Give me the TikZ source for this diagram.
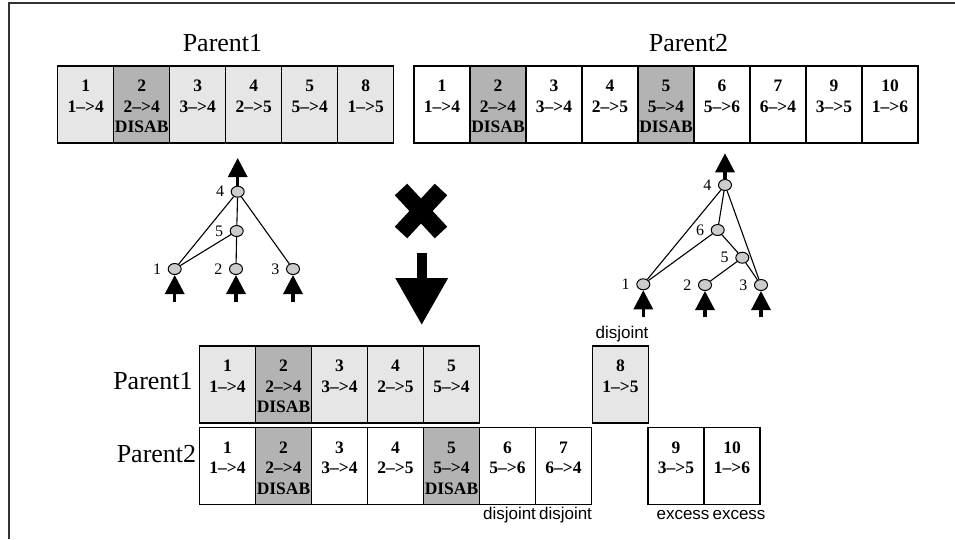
\documentclass[tikz,border=0pt]{standalone}
\usepackage{fontspec}
\setmainfont{Liberation Serif}
\newfontfamily\tagfont{Liberation Sans}
\usetikzlibrary{calc,positioning,shapes.geometric,arrows.meta}
\definecolor{genelight}{RGB}{230,230,230}
\definecolor{genedark}{RGB}{179,179,179}
\definecolor{dotgray}{RGB}{204,204,204}
\tikzset{
  gene/.style={draw=black, line width=1.3pt, rectangle, minimum width=56pt,
    minimum height=77pt, inner sep=0pt, outer sep=0pt,
    font=\fontsize{17.5}{20.5}\selectfont\bfseries},
  p1gene/.style={gene, fill=genelight},
  p2gene/.style={gene, fill=white},
  disgene/.style={gene, fill=genedark},
  title/.style={font=\fontsize{26}{30}\selectfont},
  tag/.style={font=\tagfont\fontsize{17}{20}\selectfont, inner sep=0pt,
    text height=12pt, text depth=3.5pt},
  netdot/.style={ellipse, draw=black, fill=dotgray, line width=1pt,
    minimum width=13pt, minimum height=11pt, inner sep=0pt},
  link/.style={line width=1.1pt},
  inarrow/.style={line width=3.2pt, -{Triangle[width=19pt,length=19pt]}},
}
\def\netnode{\node[netdot]}
\def\drawin{\draw[inarrow]}
\newcommand{\genetext}[3]{\parbox[c][54.3pt][t]{56pt}{\centering\strut#1\\#2\\#3\strut}}

\begin{document}
\begin{tikzpicture}[x=1pt, y=-1pt,
  every label/.style={font=\fontsize{16}{18}\selectfont, inner sep=1pt},
  label distance=5.5pt]
\useasboundingbox (0,0) rectangle (955,539);
\draw[line width=1.3pt, black!80] (9,539) -- (9,3) -- (955,3);

% Parent1 genome
\node[title] (p1_title) at (222.5,43.5) {Parent1};
\node[p1gene] (p1_g1) at (85.7,104.5) {\genetext{1}{1–>4}{}};
\node[disgene, right=0pt of p1_g1] (p1_g2) {\genetext{2}{2–>4}{DISAB}};
\node[p1gene, right=0pt of p1_g2] (p1_g3) {\genetext{3}{3–>4}{}};
\node[p1gene, right=0pt of p1_g3] (p1_g4) {\genetext{4}{2–>5}{}};
\node[p1gene, right=0pt of p1_g4] (p1_g5) {\genetext{5}{5–>4}{}};
\node[p1gene, right=0pt of p1_g5] (p1_g8) {\genetext{8}{1–>5}{}};

% Parent2 genome
\node[title] (p2_title) at (688.5,43.5) {Parent2};
\node[p2gene] (p2_g1) at (442,104.5) {\genetext{1}{1–>4}{}};
\node[disgene, right=0pt of p2_g1] (p2_g2) {\genetext{2}{2–>4}{DISAB}};
\node[p2gene, right=0pt of p2_g2] (p2_g3) {\genetext{3}{3–>4}{}};
\node[p2gene, right=0pt of p2_g3] (p2_g4) {\genetext{4}{2–>5}{}};
\node[disgene, right=0pt of p2_g4] (p2_g5) {\genetext{5}{5–>4}{DISAB}};
\node[p2gene, right=0pt of p2_g5] (p2_g6) {\genetext{6}{5–>6}{}};
\node[p2gene, right=0pt of p2_g6] (p2_g7) {\genetext{7}{6–>4}{}};
\node[p2gene, right=0pt of p2_g7] (p2_g9) {\genetext{9}{3–>5}{}};
\node[p2gene, right=0pt of p2_g9] (p2_g10) {\genetext{10}{1–>6}{}};

% Parent1 network
\netnode[label=left:4] (l4) at (237.7,191.7) {};
\netnode[label=left:5] (l5) at (236.7,231) {};
\netnode[label=left:1] (l1) at (174.7,269) {};
\netnode[label=left:2] (l2) at (236,269) {};
\netnode[label=left:3] (l3) at (293,269) {};
\draw[link] (l4) -- (l1);
\draw[link] (l4) -- (l5);
\draw[link] (l4) -- (l3);
\draw[link] (l5) -- (l1);
\draw[link] (l5) -- (l2);
\coordinate (l4_out) at ($ (l4) + (0,-33.7) $);
\coordinate (l1_in) at ($ (l1) + (0,33) $);
\coordinate (l2_in) at ($ (l2) + (0,33) $);
\coordinate (l3_in) at ($ (l3) + (0,33) $);
\drawin (l4) -- (l4_out);
\drawin (l1_in) -- (l1);
\drawin (l2_in) -- (l2);
\drawin (l3_in) -- (l3);

% Parent2 network
\netnode[label=left:4] (r4) at (725,185) {};
\netnode[label=left:6] (r6) at (717.7,230) {};
\netnode[label=left:5] (r5) at (742.3,257.7) {};
\netnode[label=left:1] (r1) at (643.3,284.3) {};
\netnode[label=left:2] (r2) at (705,285) {};
\netnode[label=left:3] (r3) at (761,285) {};
\draw[link] (r4) -- (r1);
\draw[link] (r4) -- (r6);
\draw[link] (r4) -- (r3);
\draw[link] (r6) -- (r1);
\draw[link] (r6) -- (r5);
\draw[link] (r5) -- (r2);
\draw[link] (r5) -- (r3);
\coordinate (r4_out) at ($ (r4) + (0,-31.7) $);
\coordinate (r1_in) at ($ (r1) + (0,32.4) $);
\coordinate (r2_in) at ($ (r2) + (0,32) $);
\coordinate (r3_in) at ($ (r3) + (0,32) $);
\drawin (r4) -- (r4_out);
\drawin (r1_in) -- (r1);
\drawin (r2_in) -- (r2);
\drawin (r3_in) -- (r3);

% crossover mark and arrow
\coordinate (cross) at (421,211);
\draw[line width=17pt] ($ (cross) + (-20,-21.5) $) -- ($ (cross) + (20,21.5) $);
\draw[line width=17pt] ($ (cross) + (20,-21.5) $) -- ($ (cross) + (-20,21.5) $);
\coordinate (down_top) at (421.7,253);
\coordinate (down_tip) at (421.7,325);
\draw[line width=10pt, -{Triangle[width=50pt,length=47pt]}] (down_top) -- (down_tip);

% aligned genes
\node[title] (al1_title) at (153,381) {Parent1};
\node[p1gene] (al1_g1) at (227.5,384.5) {\genetext{1}{1–>4}{}};
\node[disgene, right=0pt of al1_g1] (al1_g2) {\genetext{2}{2–>4}{DISAB}};
\node[p1gene, right=0pt of al1_g2] (al1_g3) {\genetext{3}{3–>4}{}};
\node[p1gene, right=0pt of al1_g3] (al1_g4) {\genetext{4}{2–>5}{}};
\node[p1gene, right=0pt of al1_g4] (al1_g5) {\genetext{5}{5–>4}{}};
\node[p1gene] (al1_g8) at (620.5,384.5) {\genetext{8}{1–>5}{}};

\node[title] (al2_title) at (156.5,454) {Parent2};
\node[p2gene] (al2_g1) at (227.5,465.8) {\genetext{1}{1–>4}{}};
\node[disgene, right=0pt of al2_g1] (al2_g2) {\genetext{2}{2–>4}{DISAB}};
\node[p2gene, right=0pt of al2_g2] (al2_g3) {\genetext{3}{3–>4}{}};
\node[p2gene, right=0pt of al2_g3] (al2_g4) {\genetext{4}{2–>5}{}};
\node[disgene, right=0pt of al2_g4] (al2_g5) {\genetext{5}{5–>4}{DISAB}};
\node[p2gene, right=0pt of al2_g5] (al2_g6) {\genetext{6}{5–>6}{}};
\node[p2gene, right=0pt of al2_g6] (al2_g7) {\genetext{7}{6–>4}{}};
\node[p2gene] (al2_g9) at (676,465.8) {\genetext{9}{3–>5}{}};
\node[p2gene, right=0pt of al2_g9] (al2_g10) {\genetext{10}{1–>6}{}};

% disjoint / excess tags
\node[tag, above=3.5pt of al1_g8, xshift=1.5pt] (tag_g8) {disjoint};
\node[tag, below=2.5pt of al2_g6, xshift=2pt] (tag_g6) {disjoint};
\node[tag, below=2.5pt of al2_g7, xshift=2pt] (tag_g7) {disjoint};
\node[tag, below=2.5pt of al2_g9, xshift=7pt] (tag_g9) {excess};
\node[tag, below=2.5pt of al2_g10, xshift=7pt] (tag_g10) {excess};
\end{tikzpicture}
\end{document}
